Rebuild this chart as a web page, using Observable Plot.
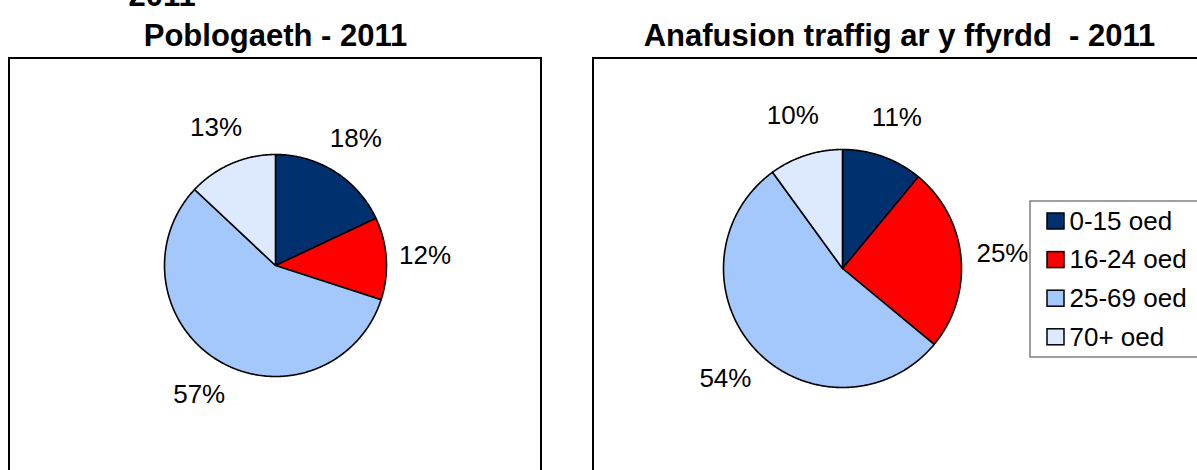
<!DOCTYPE html>
<html>
<head>
<meta charset="utf-8">
<script src="https://cdn.jsdelivr.net/npm/d3@7"></script>
<script src="https://cdn.jsdelivr.net/npm/@observablehq/plot@0.6"></script>
<style>
  html, body { margin: 0; padding: 0; background: #ffffff; }
  #chart { width: 1197px; height: 470px; overflow: hidden; }
</style>
</head>
<body>
<div id="chart"></div>
<script>
// ---- data ----
const ageGroups = ["0-15 oed", "16-24 oed", "25-69 oed", "70+ oed"];
const populationPct = [18, 12, 57, 13];
const casualtiesPct = [11, 25, 54, 10];
const sliceColors = ["#00306e", "#ff0000", "#a4c8fc", "#dce9fe"];
const chartTitles = ["Poblogaeth - 2011", "Anafusion traffig ar y ffyrdd  - 2011"];
const clippedTitleLine = "2011";

// ---- layout ----
const W = 1197, H = 470;
const FONT = "'Liberation Sans', Arial, Helvetica, sans-serif";
const charts = [
  {key: "pop", values: populationPct, cx: 275, cy: 265, r: 111, box: [9, 541], titleX: 275},
  {key: "cas", values: casualtiesPct, cx: 842, cy: 268, r: 119, box: [593, 1215], titleX: 899}
];
const boxTop = 58, boxBottom = 490;
const labelFactor = 1.35;

// slices as closed polygons computed from the values
const slicePts = [];
const labels = [];
charts.forEach((c, ci) => {
  const total = d3.sum(c.values);
  let acc = 0;
  c.values.forEach((v, i) => {
    const a0 = acc / total * 2 * Math.PI;
    acc += v;
    const a1 = acc / total * 2 * Math.PI;
    const z = c.key + "-" + i;
    const pts = [[c.cx, c.cy]];
    const n = Math.max(2, Math.ceil((a1 - a0) / (Math.PI / 360)));
    for (let k = 0; k <= n; k++) {
      const a = a0 + (a1 - a0) * k / n;
      pts.push([c.cx + c.r * Math.sin(a), c.cy - c.r * Math.cos(a)]);
    }
    pts.push([c.cx, c.cy]);
    pts.forEach(([x, y]) => slicePts.push({z, x, y, color: sliceColors[i]}));
    const am = (a0 + a1) / 2;
    labels.push({
      x: c.cx + c.r * labelFactor * Math.sin(am),
      y: c.cy - c.r * labelFactor * Math.cos(am),
      text: v + "%"
    });
  });
});

const boxes = charts.map(c => ({x1: c.box[0], x2: c.box[1], y1: boxTop, y2: boxBottom}));
const titles = charts.map((c, i) => ({x: c.titleX, y: 45, text: chartTitles[i]}));

// legend
const legend = {x1: 1030, x2: 1215, y1: 201, y2: 357, row0: 221, step: 38.6};
const legendRows = ageGroups.map((g, i) => ({
  label: g, color: sliceColors[i], y: legend.row0 + i * legend.step
}));

const plot = Plot.plot({
  width: W, height: H,
  margin: 0,
  x: {type: "identity", axis: null},
  y: {type: "identity", axis: null},
  color: {type: "identity"},
  style: {background: "#ffffff", fontFamily: FONT},
  marks: [
    Plot.rect(boxes, {x1: "x1", x2: "x2", y1: "y1", y2: "y2", fill: "none", stroke: "#000000", strokeWidth: 2}),
    Plot.line(slicePts, {x: "x", y: "y", z: "z", fill: "color", stroke: "#000000", strokeWidth: 1.6, strokeLinejoin: "round"}),
    Plot.text(labels, {x: "x", y: "y", text: "text", fontSize: 26, fill: "#000000", fontFamily: FONT, lineAnchor: "middle"}),
    Plot.text(titles, {x: "x", y: "y", text: "text", fontSize: 31, fontWeight: "bold", fill: "#000000", fontFamily: FONT, lineAnchor: "bottom"}),
    Plot.text([clippedTitleLine], {x: () => 128, y: () => 5, text: d => d, fontSize: 31, fontWeight: "bold", fill: "#000000", fontFamily: FONT, textAnchor: "start", lineAnchor: "bottom"}),
    Plot.rect([legend], {x1: "x1", x2: "x2", y1: "y1", y2: "y2", fill: "#ffffff", stroke: "#808080", strokeWidth: 1.5}),
    Plot.rect(legendRows, {x1: () => 1047, x2: () => 1064, y1: d => d.y - 8, y2: d => d.y + 8, fill: "color", stroke: "#000000", strokeWidth: 1.5}),
    Plot.text(legendRows, {x: () => 1069, y: "y", text: "label", fontSize: 26, fill: "#000000", fontFamily: FONT, textAnchor: "start", lineAnchor: "middle"})
  ]
});
document.getElementById("chart").appendChild(plot);
</script>
</body>
</html>
